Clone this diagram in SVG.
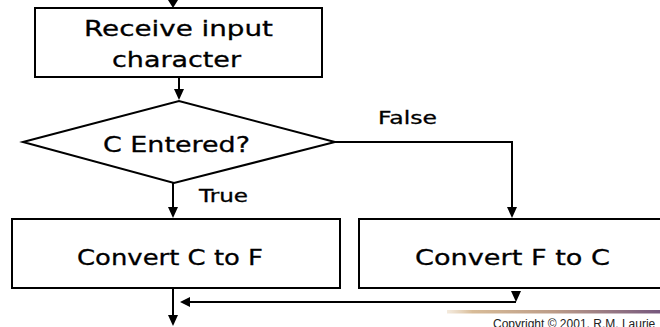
<svg xmlns="http://www.w3.org/2000/svg" width="660" height="327" viewBox="0 0 660 327">
  <style>
    .box { fill: #ffffff; stroke: #000000; stroke-width: 2; }
    .wire { fill: none; stroke: #000000; stroke-width: 2; }
    .head { fill: #000000; stroke: none; }
    .t { font-family: "DejaVu Sans", "Verdana", sans-serif; fill: #000000; stroke: #000000; stroke-width: 0.3; }
    .main { font-size: 22px; }
    .lbl { font-size: 17px; }
    .copy { font-family: "Liberation Sans", Arial, sans-serif; font-size: 12px; fill: #222222; }
  </style>
  <defs>
    <linearGradient id="rule" x1="0" y1="0" x2="1" y2="0">
      <stop offset="0" stop-color="#efe2d0" stop-opacity="0.7"/>
      <stop offset="0.12" stop-color="#d8bc98"/>
      <stop offset="0.5" stop-color="#bc9c88"/>
      <stop offset="1" stop-color="#76587e"/>
    </linearGradient>
  </defs>
  <rect width="660" height="327" fill="#ffffff"/>

  <g id="connectors">
    <!-- entry arrow -->
    <polygon class="head" points="168,0 178,0 173,8"/>
    <!-- input box to decision -->
    <line class="wire" x1="179" y1="77" x2="179" y2="92"/>
    <polygon class="head" points="174,89 184,89 179,100"/>
    <!-- True branch -->
    <line class="wire" x1="173" y1="183" x2="173" y2="210"/>
    <polygon class="head" points="168,207 178,207 173,218"/>
    <!-- False branch -->
    <polyline class="wire" points="335,142 512,142 512,210"/>
    <polygon class="head" points="507,207 517,207 512,218"/>
    <!-- exit from left box -->
    <line class="wire" x1="173" y1="288" x2="173" y2="318"/>
    <polygon class="head" points="168,315 178,315 173,326"/>
    <!-- return from right box -->
    <polygon class="head" points="511,291 521,291 516,302"/>
    <line class="wire" x1="516" y1="302" x2="188" y2="302"/>
    <polygon class="head" points="190,297 190,307 180,302"/>
  </g>

  <g id="receive">
    <rect class="box" x="35" y="8" width="287" height="69"/>
    <text class="t main" x="84" y="36" textLength="189" lengthAdjust="spacingAndGlyphs">Receive input</text>
    <text class="t main" x="112" y="67" textLength="129" lengthAdjust="spacingAndGlyphs">character</text>
  </g>

  <g id="decision">
    <polygon class="box" points="23,142 179,101 335,142 174,183"/>
    <text class="t main" x="103" y="152" textLength="147" lengthAdjust="spacingAndGlyphs">C Entered?</text>
  </g>

  <g id="labels">
    <text class="t lbl" x="199" y="202" textLength="49" lengthAdjust="spacingAndGlyphs">True</text>
    <text class="t lbl" x="378" y="124" textLength="59" lengthAdjust="spacingAndGlyphs">False</text>
  </g>

  <g id="c-to-f">
    <rect class="box" x="12" y="219" width="328" height="69"/>
    <text class="t main" x="77" y="265" textLength="186" lengthAdjust="spacingAndGlyphs">Convert C to F</text>
  </g>

  <g id="f-to-c">
    <rect class="box" x="359" y="219" width="320" height="69"/>
    <text class="t main" x="415" y="265" textLength="195" lengthAdjust="spacingAndGlyphs">Convert F to C</text>
  </g>

  <g id="footer">
    <rect x="447" y="310" width="213" height="3.5" fill="url(#rule)"/>
    <text class="copy" x="493" y="328">Copyright © 2001, R.M. Laurie</text>
  </g>
</svg>
